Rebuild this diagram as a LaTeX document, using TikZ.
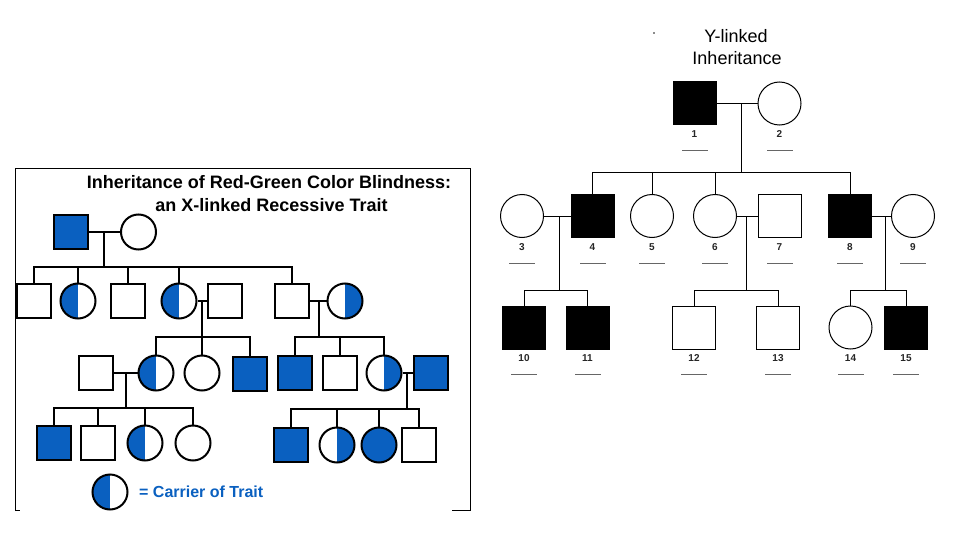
\documentclass[tikz,border=0pt]{standalone}
\usepackage{fontspec}
\setmainfont{Liberation Sans}
\definecolor{tblue}{RGB}{10,96,192}
\begin{document}
\begin{tikzpicture}[x=1pt,y=-1pt,
  lsq/.style={draw,line width=2pt,rectangle,minimum size=34pt,inner sep=0pt},
  lci/.style={draw,line width=2pt,circle,minimum size=35pt,inner sep=0pt},
  aff/.style={fill=tblue},
  lhalf/.style={path picture={\fill[tblue] (path picture bounding box.south west) rectangle (path picture bounding box.north);}},
  rhalf/.style={path picture={\fill[tblue] (path picture bounding box.south) rectangle (path picture bounding box.north east);}},
  lline/.style={line width=1.7pt},
  frameline/.style={line width=1pt},
  rsq/.style={draw,line width=1pt,rectangle,minimum size=43pt,inner sep=0pt},
  rci/.style={draw,line width=1pt,circle,minimum size=43pt,inner sep=0pt},
  blk/.style={fill=black},
  rline/.style={line width=1pt},
  rnum/.style={font=\bfseries\fontsize{10}{10}\selectfont,inner sep=0pt,text=black!85},
  uline/.style={fill=black!60,minimum width=26pt,minimum height=0.9pt,inner sep=0pt},
]
\useasboundingbox (0,0) rectangle (960,540);
\fill[white] (0,0) rectangle (960,540);

% ---------- Left panel frame ----------
\draw[frameline] (15,511) -- (15,169) -- (470,169) -- (470,511);
\draw[frameline] (15,510.5) -- (20,510.5);
\draw[frameline] (452,510.5) -- (470,510.5);

% titles
\node[anchor=base,font=\bfseries\fontsize{18}{20}\selectfont] (t1) at (269,188) {Inheritance of Red-Green Color Blindness:};
\node[anchor=base,font=\bfseries\fontsize{18}{20}\selectfont] (t2) at (271.5,211) {an X-linked Recessive Trait};

% generation 1
\node[lsq,aff] (g1a) at (71,232) {};
\node[lci] (g1b) at (138.5,232) {};
% generation 2
\node[lsq] (g2a) at (34,301) {};
\node[lci,lhalf] (g2b) at (78,301) {};
\node[lsq] (g2c) at (128,301) {};
\node[lci,lhalf] (g2d) at (179,301) {};
\node[lsq] (g2e) at (225,301) {};
\node[lsq] (g2f) at (292,301) {};
\node[lci,rhalf] (g2g) at (345,301) {};
% generation 3
\node[lsq] (g3a) at (96,373) {};
\node[lci,lhalf] (g3b) at (156,373) {};
\node[lci] (g3c) at (202,373) {};
\node[lsq,aff] (g3d) at (250,374) {};
\node[lsq,aff] (g3e) at (295,373) {};
\node[lsq] (g3f) at (340,373) {};
\node[lci,rhalf] (g3g) at (384,373) {};
\node[lsq,aff] (g3h) at (431,373) {};
% generation 4
\node[lsq,aff] (g4a) at (54,443) {};
\node[lsq] (g4b) at (98,443) {};
\node[lci,lhalf] (g4c) at (145,443) {};
\node[lci] (g4d) at (193,443) {};
\node[lsq,aff] (g4e) at (291,445) {};
\node[lci,rhalf] (g4f) at (337,445) {};
\node[lci,aff] (g4g) at (379,445) {};
\node[lsq] (g4h) at (419,445) {};

% legend
\node[lci,lhalf] (leg) at (110,492) {};
\node[anchor=base west,text=tblue,font=\bfseries\fontsize{16}{18}\selectfont,inner sep=0pt] (legt) at (139,497.5) {= Carrier of Trait};

% left connectors
\coordinate (m1) at (104,232); \coordinate (s1) at (104,267);
\draw[lline] (g1a.east) -- (g1b.west);
\draw[lline] (m1) -- (s1);
\foreach \c in {g2a,g2b,g2c,g2d,g2f} \draw[lline] (s1) -| (\c.north);

\coordinate (m2) at (202,301); \coordinate (s2) at (202,337);
\draw[lline] (g2d.east) -- (g2e.west);
\draw[lline] (m2) -- (s2);
\foreach \c in {g3b,g3c,g3d} \draw[lline] (s2) -| (\c.north);

\coordinate (m3) at (319,301); \coordinate (s3) at (319,337);
\draw[lline] (g2f.east) -- (g2g.west);
\draw[lline] (m3) -- (s3);
\foreach \c in {g3e,g3f,g3g} \draw[lline] (s3) -| (\c.north);

\coordinate (m4) at (126,373); \coordinate (s4) at (126,408);
\draw[lline] (g3a.east) -- (g3b.west);
\draw[lline] (m4) -- (s4);
\foreach \c in {g4a,g4b,g4c,g4d} \draw[lline] (s4) -| (\c.north);

\coordinate (m5) at (407,373); \coordinate (s5) at (407,409);
\draw[lline] (g3g.east) -- (g3h.west);
\draw[lline] (m5) -- (s5);
\foreach \c in {g4e,g4f,g4g,g4h} \draw[lline] (s5) -| (\c.north);

% ---------- Right panel ----------
\fill[black!45] (653,32) rectangle (655,34);
\node[anchor=base,font=\fontsize{18}{20}\selectfont] (y1) at (736,42.5) {Y-linked};
\node[anchor=base,font=\fontsize{18}{20}\selectfont] (y2) at (737,64.3) {Inheritance};

\node[rsq,blk] (r1) at (694.5,103.5) {};
\node[rci] (r2) at (779.5,103.5) {};

\node[rci] (r3) at (522,216) {};
\node[rsq,blk] (r4) at (592.5,216) {};
\node[rci] (r5) at (652,216) {};
\node[rci] (r6) at (715,216) {};
\node[rsq] (r7) at (779.5,216) {};
\node[rsq,blk] (r8) at (850,216) {};
\node[rci] (r9) at (913,216) {};

\node[rsq,blk] (r10) at (524,327.5) {};
\node[rsq,blk] (r11) at (587.5,327.5) {};
\node[rsq] (r12) at (694,327.5) {};
\node[rsq] (r13) at (778,327.5) {};
\node[rci] (r14) at (850.5,327.5) {};
\node[rsq,blk] (r15) at (906,327.5) {};

\foreach \n/\t in {r1/1,r2/2,r3/3,r4/4,r5/5,r6/6,r7/7,r8/8,r9/9,r10/10,r11/11,r12/12,r13/13,r14/14,r15/15} {
  \node[rnum] (\n-l) at ([yshift=-9pt]\n.south) {\t};
  \node[uline] (\n-u) at ([yshift=-25pt]\n.south) {};
}

\coordinate (rm1) at (741,103.5); \coordinate (rs1) at (741,173);
\draw[rline] (r1.east) -- (r2.west);
\draw[rline] (rm1) -- (rs1);
\foreach \c in {r4,r5,r6,r8} \draw[rline] (rs1) -| (\c.north);

\coordinate (rm2) at (559,216); \coordinate (rs2) at (559,290);
\draw[rline] (r3.east) -- (r4.west);
\draw[rline] (rm2) -- (rs2);
\foreach \c in {r10,r11} \draw[rline] (rs2) -| (\c.north);

\coordinate (rm3) at (746,216); \coordinate (rs3) at (746,290);
\draw[rline] (r6.east) -- (r7.west);
\draw[rline] (rm3) -- (rs3);
\foreach \c in {r12,r13} \draw[rline] (rs3) -| (\c.north);

\coordinate (rm4) at (885,216); \coordinate (rs4) at (885,290);
\draw[rline] (r8.east) -- (r9.west);
\draw[rline] (rm4) -- (rs4);
\foreach \c in {r14,r15} \draw[rline] (rs4) -| (\c.north);
\end{tikzpicture}
\end{document}
